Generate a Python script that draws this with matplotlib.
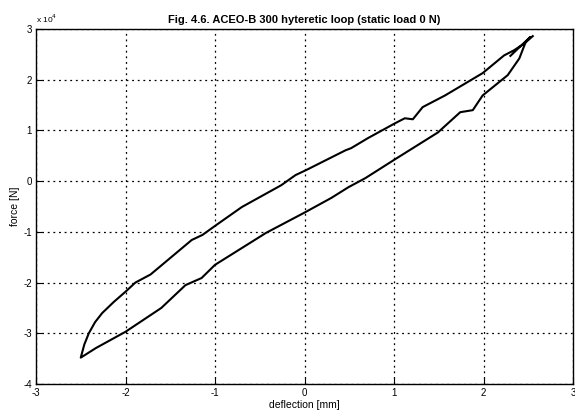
import numpy as np
import matplotlib
matplotlib.use("Agg")
import matplotlib.pyplot as plt

plt.rcParams['font.family'] = ['Liberation Sans', 'DejaVu Sans']
plt.rcParams['axes.unicode_minus'] = False

# force values in units of 1e4 N, deflection in mm
# upper branch (unloading), from the top tip down to the bottom tip
up_x = [2.55, 2.46, 2.34, 2.23, 1.99, 1.57, 1.32, 1.21, 1.12, 1.01, 0.71, 0.52,
        0.46, 0.02, -0.10, -0.26, -0.70, -0.99, -1.14, -1.26, -1.72, -1.89,
        -2.00, -2.13, -2.26, -2.34, -2.41, -2.46, -2.50]
up_y = [2.86, 2.72, 2.58, 2.48, 2.13, 1.69, 1.46, 1.22, 1.24, 1.14, 0.85, 0.65,
        0.61, 0.22, 0.12, -0.08, -0.51, -0.87, -1.06, -1.16, -1.84, -2.00,
        -2.18, -2.38, -2.60, -2.78, -3.00, -3.22, -3.48]
# lower branch (loading), from the bottom tip up to the top tip
lo_x = [-2.50, -2.33, -2.00, -1.60, -1.33, -1.15, -1.00, -0.43, 0.00, 0.30,
        0.49, 0.68, 1.01, 1.49, 1.74, 1.88, 1.99, 2.27, 2.40, 2.47, 2.52]
lo_y = [-3.48, -3.29, -2.97, -2.50, -2.05, -1.91, -1.65, -1.02, -0.62, -0.33,
        -0.12, 0.06, 0.43, 0.96, 1.36, 1.40, 1.69, 2.09, 2.42, 2.74, 2.84]
# short hook at the top end of the loop
hook_x = [2.52, 2.30]
hook_y = [2.84, 2.47]

x = up_x + lo_x + hook_x
y = up_y + lo_y + hook_y

fig = plt.figure(figsize=(5.75, 4.18), dpi=100)
ax = fig.add_axes([0.0626, 0.0813, 0.934, 0.8493])
ax.plot(x, y, color="black", lw=1.5)

ax.set_xlim(-3, 3)
ax.set_ylim(-4, 3)
ax.set_xticks(np.arange(-3, 4))
ax.set_yticks(np.arange(-4, 4))
ax.grid(True, color="black", linestyle=(0, (1.5, 3)), lw=0.9)
ax.tick_params(direction="in", labelsize=7, length=4, pad=3)
for s in ax.spines.values():
    s.set_linewidth(1.0)

ax.set_title("Fig. 4.6. ACEO-B 300 hyteretic loop (static load 0 N)",
             fontsize=8, fontweight="bold", pad=4)
ax.set_xlabel("deflection [mm]", fontsize=7.5, labelpad=1)
ax.set_ylabel("force [N]", fontsize=7.5, labelpad=2)
ax.text(0.0, 1.01, r"x 10$^4$", transform=ax.transAxes, fontsize=6,
        ha="left", va="bottom")

fig.savefig("out.png", dpi=100)
